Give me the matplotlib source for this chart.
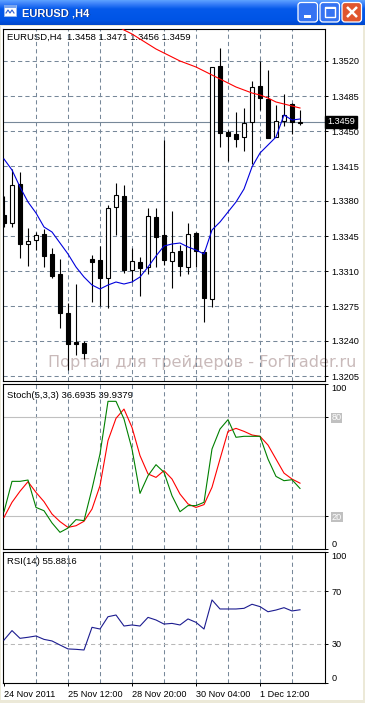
import numpy as np
import matplotlib
matplotlib.use('Agg')
import matplotlib.pyplot as plt
from matplotlib.patches import Rectangle, FancyBboxPatch
from matplotlib.transforms import blended_transform_factory

plt.rcParams['font.family'] = ['Liberation Sans', 'DejaVu Sans']

W, H = 365, 703

# EURUSD H4 candles
opens = [1.3366, 1.3358, 1.3397, 1.3337, 1.3341, 1.3347, 1.3327, 1.3307, 1.3268, 1.3239,
         1.3238, 1.3322, 1.3321, 1.3303, 1.3374, 1.3385, 1.3311, 1.3319, 1.3314, 1.3364,
         1.3346, 1.3320, 1.3330, 1.3314, 1.3348, 1.3329, 1.3282, 1.3515, 1.3449, 1.3447,
         1.3444, 1.3459, 1.3495, 1.3482, 1.3444, 1.3460, 1.3477, 1.3458]
highs = [1.3385, 1.3412, 1.3409, 1.3353, 1.3349, 1.3352, 1.3333, 1.3322, 1.3278, 1.3297,
         1.3240, 1.3326, 1.3335, 1.3376, 1.3398, 1.3396, 1.3333, 1.3324, 1.3373, 1.3373,
         1.3441, 1.3370, 1.3336, 1.3358, 1.3349, 1.3331, 1.3514, 1.3533, 1.3451, 1.3469,
         1.3473, 1.3500, 1.3520, 1.3511, 1.3476, 1.3487, 1.3478, 1.3471]
lows = [1.3354, 1.3354, 1.3323, 1.3315, 1.3331, 1.3314, 1.3303, 1.3253, 1.3211, 1.3226,
        1.3222, 1.3279, 1.3275, 1.3273, 1.3346, 1.3308, 1.3299, 1.3285, 1.3307, 1.3314,
        1.3316, 1.3293, 1.3305, 1.3307, 1.3314, 1.3259, 1.3274, 1.3434, 1.3420, 1.3434,
        1.3430, 1.3417, 1.3471, 1.3443, 1.3444, 1.3455, 1.3447, 1.3456]
closes = [1.3358, 1.3396, 1.3337, 1.3340, 1.3346, 1.3325, 1.3305, 1.3268, 1.3237, 1.3237,
          1.3228, 1.3319, 1.3303, 1.3373, 1.3386, 1.3311, 1.3320, 1.3313, 1.3365, 1.3344,
          1.3321, 1.3329, 1.3315, 1.3347, 1.3330, 1.3283, 1.3514, 1.3448, 1.3445, 1.3442,
          1.3458, 1.3494, 1.3483, 1.3443, 1.3460, 1.3466, 1.3459, 1.3459]

# moving averages
ma_fast = [1.3422, 1.3411, 1.3394, 1.3379, 1.3368, 1.3354, 1.3349, 1.3338, 1.3327, 1.3314,
           1.3304, 1.3296, 1.3292, 1.3296, 1.3299, 1.3297, 1.3299, 1.3304, 1.3314, 1.3325,
           1.3335, 1.3337, 1.3338, 1.3334, 1.3331, 1.3327, 1.3351, 1.3359, 1.3369, 1.3379,
           1.3392, 1.3414, 1.3428, 1.3436, 1.3444, 1.3466, 1.3461, 1.3462]
ma_slow_start = 13
ma_slow = [1.3561, 1.3556, 1.3551, 1.3547, 1.3542, 1.3537, 1.3532, 1.3528, 1.3524, 1.3520,
           1.3517, 1.3514, 1.3510, 1.3506, 1.3502, 1.3498, 1.3494, 1.3491, 1.3488, 1.3486,
           1.3483, 1.3479, 1.3477, 1.3475, 1.3473]

stoch_main = [22.6, 41.0, 41.0, 41.8, 25.2, 23.2, 15.8, 10.1, 12.7, 17.8,
              17.2, 36.4, 57.6, 89.5, 89.5, 78.8, 60.6, 33.7, 44.4, 51.1,
              46.5, 32.3, 22.6, 26.3, 26.3, 28.3, 60.6, 72.7, 78.4, 67.7,
              68.3, 68.3, 68.3, 54.5, 44.0, 41.4, 42.0, 36.7]
stoch_signal = [19.2, 28.3, 35.0, 40.8, 34.3, 28.7, 21.2, 16.6, 13.1, 14.1,
                16.8, 24.2, 38.4, 65.7, 79.2, 84.8, 73.7, 56.6, 45.5, 43.4,
                47.5, 42.4, 33.3, 27.3, 25.2, 26.9, 37.4, 54.5, 71.3, 73.1,
                71.3, 69.1, 68.3, 63.0, 54.5, 46.0, 42.4, 39.9]
rsi = [32.8, 40.0, 34.1, 34.9, 35.9, 33.3, 32.1, 29.0, 26.0, 25.7,
       25.2, 42.5, 41.2, 50.6, 51.9, 43.5, 44.3, 43.5, 50.1, 48.1,
       45.0, 45.5, 44.3, 48.9, 46.3, 41.2, 63.4, 56.5, 56.5, 56.5,
       57.0, 60.1, 58.3, 54.4, 55.7, 57.5, 55.0, 55.9]

price_ticks = [1.3520, 1.3485, 1.3450, 1.3415, 1.3380, 1.3345, 1.3310, 1.3275, 1.3240, 1.3205]
last_price = 1.3459
stoch_levels = [20, 80]
rsi_levels = [30, 70]
grid_bars = [4, 8, 12, 16, 20, 24, 28, 32, 36]
time_ticks = [0, 8, 16, 24, 32]
time_labels = ['24 Nov 2011', '25 Nov 12:00', '28 Nov 20:00', '30 Nov 04:00', '1 Dec 12:00']

GRID = '#778899'
FS = 6.6


def rect(x0, y0, x1, y1):
    # pixel box (from top-left) -> figure fraction
    return [x0 / W, 1 - y1 / H, (x1 - x0) / W, (y1 - y0) / H]


fig = plt.figure(figsize=(W / 100, H / 100), dpi=100, facecolor='#ece9d8')

# window frame, title bar
bg = fig.add_axes([0, 0, 1, 1], zorder=-5)
bg.axis('off')
rows = np.linspace(0, 1, 25)
stops = [0, 0.12, 0.35, 0.8, 1]
r = np.interp(rows, stops, [0.35, 0.25, 0.02, 0.00, 0.00])
g = np.interp(rows, stops, [0.62, 0.52, 0.35, 0.33, 0.28])
b = np.interp(rows, stops, [1.00, 0.98, 0.92, 0.90, 0.80])
bar_img = np.dstack([r, g, b]).reshape(25, 1, 3)
bg.imshow(bar_img, extent=(0, W, 25, 0), aspect='auto', interpolation='bilinear')
bg.add_patch(Rectangle((1, 26), 362, 674, facecolor='white', edgecolor='none'))
bg.set_xlim(0, W)
bg.set_ylim(H, 0)

# icon
bg.add_patch(Rectangle((4, 5), 12, 11, facecolor='white', edgecolor='#9cbcf0', lw=0.6))
bg.add_patch(Rectangle((4, 5), 12, 3, facecolor='#7aa6f0', edgecolor='none'))
bg.plot([6, 8, 10, 12, 14], [13, 10, 13, 10, 13], color='#3060d0', lw=0.8)
bg.text(23, 14, 'EURUSD ,H4', color='#0a2a80', fontsize=8, fontweight='bold', va='center')
bg.text(22, 13, 'EURUSD ,H4', color='white', fontsize=8, fontweight='bold', va='center')

# buttons
for x0, fc in [(298, '#3573f2'), (320, '#3573f2'), (342, '#e0552e')]:
    bg.add_patch(FancyBboxPatch((x0, 2.5), 19.5, 19.5, boxstyle='round,pad=0,rounding_size=3',
                                facecolor=fc, edgecolor='white', lw=0.9))
bg.add_patch(Rectangle((303.5, 15), 7, 2.8, facecolor='white', edgecolor='none'))
bg.add_patch(Rectangle((325, 6.5), 10, 10, facecolor='none', edgecolor='white', lw=1.0))
bg.add_patch(Rectangle((325, 6.5), 10, 2.5, facecolor='white', edgecolor='none'))
bg.plot([347, 357], [7, 17], color='white', lw=1.8, solid_capstyle='butt')
bg.plot([357, 347], [7, 17], color='white', lw=1.8, solid_capstyle='butt')

# panel headers and watermark
bg.text(7, 37, 'EURUSD,H4  1.3458 1.3471 1.3456 1.3459', fontsize=6.8, va='center')
bg.text(7, 395, 'Stoch(5,3,3) 36.6935 39.9379', fontsize=6.8, va='center')
bg.text(7, 562, 'RSI(14) 55.8816', fontsize=6.8, va='center')
bg.text(48, 362, 'Портал для трейдеров - ForTrader.ru', color='#c9baba', fontsize=11.6,
        va='center', family='DejaVu Sans')

ax1 = fig.add_axes(rect(3, 29, 325, 381))
ax2 = fig.add_axes(rect(3, 384, 325, 549))
ax3 = fig.add_axes(rect(3, 552, 325, 683))

for a in (ax1, ax2, ax3):
    a.set_facecolor('none')
    a.set_xlim(-0.125, 40.125)
    for k in grid_bars:
        a.axvline(k, color=GRID, ls=(0, (4, 3)), lw=0.75, zorder=1)
    for s in a.spines.values():
        s.set_linewidth(0.8)
        s.set_color('black')
    a.yaxis.tick_right()
    a.tick_params(axis='y', direction='out', length=2.2, width=0.7, pad=2.5,
                  labelsize=FS, colors='black')
    a.set_xticks([])

# price panel
x = np.arange(len(opens))
o = np.array(opens)
c = np.array(closes)
ax1.set_ylim(1.3200, 1.3552)
ax1.set_yticks(price_ticks, labels=['%.4f' % p for p in price_ticks])
for p in price_ticks:
    ax1.axhline(p, color=GRID, ls=(0, (4, 3)), lw=0.75, zorder=1)
ax1.axhline(last_price, color=GRID, lw=0.8, zorder=1.5)
ax1.vlines(x, lows, highs, color='black', lw=0.8, zorder=3)
ax1.bar(x, np.abs(c - o), bottom=np.minimum(o, c), width=0.58,
        color=np.where(c >= o, 'white', 'black'), edgecolor='black', lw=0.8, zorder=4)
ax1.plot(x, ma_fast, color='#0000dd', lw=0.8, zorder=5)
ax1.plot(np.arange(ma_slow_start, ma_slow_start + len(ma_slow)), ma_slow,
         color='red', lw=0.8, zorder=5)
ax1.text(1.006, last_price, '%.4f' % last_price, transform=blended_transform_factory(ax1.transAxes, ax1.transData),
         color='white', fontsize=FS, ha='left', va='center', clip_on=False, zorder=10,
         bbox=dict(facecolor='black', edgecolor='black', pad=1.4))

# stochastic panel
ax2.set_ylim(0, 100)
for lv in stoch_levels:
    ax2.axhline(lv, color='#c0c0c0', lw=0.8, zorder=1)
ax2.plot(x, stoch_main, color='#008000', lw=0.8, zorder=4)
ax2.plot(x, stoch_signal, color='red', lw=0.8, zorder=3)
ax2.set_yticks([0, 20, 80, 100], labels=['0', '20', '80', '100'])
for lbl in ax2.get_yticklabels():
    t = lbl.get_text()
    if t == '100':
        lbl.set_verticalalignment('top')
    elif t == '0':
        lbl.set_verticalalignment('bottom')
    else:
        lbl.set_color('white')
        lbl.set_bbox(dict(facecolor='#c0c0c0', edgecolor='none', pad=0.6))

# RSI panel
ax3.set_ylim(0, 100)
for lv in rsi_levels:
    ax3.axhline(lv, color='#b8b8b8', ls=(0, (4, 3)), lw=0.75, zorder=1)
ax3.plot(x, rsi, color='#1c1c90', lw=0.8, zorder=4)
ax3.set_yticks([0, 30, 70, 100], labels=['0', '30', '70', '100'])
for lbl in ax3.get_yticklabels():
    if lbl.get_text() == '100':
        lbl.set_verticalalignment('top')
    elif lbl.get_text() == '0':
        lbl.set_verticalalignment('bottom')
ax3.set_xticks(time_ticks, labels=time_labels)
ax3.tick_params(axis='x', direction='out', length=2.2, width=0.7, pad=2.5, labelsize=FS)
for lbl in ax3.get_xticklabels():
    lbl.set_horizontalalignment('left')

fig.savefig('out.png', dpi=100, facecolor=fig.get_facecolor())
